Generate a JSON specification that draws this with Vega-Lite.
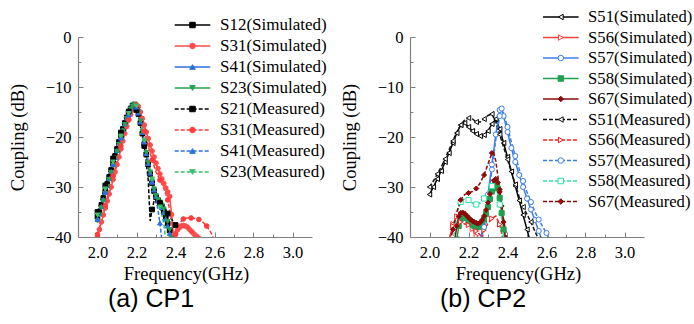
{
  "$schema": "https://vega.github.io/schema/vega-lite/v6.json",
  "padding": {"left": 8, "top": 8, "right": 0, "bottom": 0},
  "spacing": 13,
  "config": {
    "view": {"stroke": null},
    "font": "Liberation Serif",
    "axis": {"domainColor": "#808080", "tickColor": "#808080", "labelColor": "#000000", "titleColor": "#000000", "labelFont": "Liberation Serif", "titleFont": "Liberation Serif", "labelFontSize": 16.5, "titleFontSize": 18.5, "titleFontWeight": "normal", "grid": false, "domainWidth": 1.2, "tickWidth": 1}
  },
  "resolve": {"scale": {"color": "independent", "stroke": "independent", "fill": "independent", "shape": "independent", "strokeDash": "independent"}, "legend": {"color": "independent", "stroke": "independent", "fill": "independent", "shape": "independent", "strokeDash": "independent"}},
  "hconcat": [
    {
      "width": 234, "height": 200,
      "title": {"text": "(a) CP1", "orient": "bottom", "font": "Liberation Sans", "fontSize": 25, "fontWeight": "normal", "color": "#000000", "dx": -44, "offset": 4},
      "data": {"values": [
        {"series":"S12(Simulated)","f":2.00,"dB":-36.0},{"series":"S12(Simulated)","f":2.01,"dB":-35.0},{"series":"S12(Simulated)","f":2.02,"dB":-33.6},{"series":"S12(Simulated)","f":2.03,"dB":-32.2},{"series":"S12(Simulated)","f":2.04,"dB":-30.8},{"series":"S12(Simulated)","f":2.05,"dB":-29.4},{"series":"S12(Simulated)","f":2.06,"dB":-28.0},{"series":"S12(Simulated)","f":2.07,"dB":-26.6},{"series":"S12(Simulated)","f":2.08,"dB":-25.2},{"series":"S12(Simulated)","f":2.09,"dB":-23.8},{"series":"S12(Simulated)","f":2.10,"dB":-22.4},{"series":"S12(Simulated)","f":2.11,"dB":-21.0},{"series":"S12(Simulated)","f":2.12,"dB":-19.7},{"series":"S12(Simulated)","f":2.13,"dB":-18.4},{"series":"S12(Simulated)","f":2.14,"dB":-17.2},{"series":"S12(Simulated)","f":2.15,"dB":-16.1},{"series":"S12(Simulated)","f":2.16,"dB":-15.1},{"series":"S12(Simulated)","f":2.17,"dB":-14.3},{"series":"S12(Simulated)","f":2.18,"dB":-13.7},{"series":"S12(Simulated)","f":2.19,"dB":-13.5},{"series":"S12(Simulated)","f":2.20,"dB":-14.0},{"series":"S12(Simulated)","f":2.21,"dB":-15.4},{"series":"S12(Simulated)","f":2.22,"dB":-17.2},{"series":"S12(Simulated)","f":2.23,"dB":-19.3},{"series":"S12(Simulated)","f":2.24,"dB":-21.4},{"series":"S12(Simulated)","f":2.25,"dB":-23.5},{"series":"S12(Simulated)","f":2.26,"dB":-25.5},{"series":"S12(Simulated)","f":2.27,"dB":-27.4},{"series":"S12(Simulated)","f":2.28,"dB":-29.2},{"series":"S12(Simulated)","f":2.29,"dB":-30.8},{"series":"S12(Simulated)","f":2.30,"dB":-32.0},{"series":"S12(Simulated)","f":2.31,"dB":-32.7},{"series":"S12(Simulated)","f":2.32,"dB":-33.2},{"series":"S12(Simulated)","f":2.33,"dB":-33.9},{"series":"S12(Simulated)","f":2.34,"dB":-34.8},{"series":"S12(Simulated)","f":2.35,"dB":-35.9},{"series":"S12(Simulated)","f":2.36,"dB":-37.3},{"series":"S12(Simulated)","f":2.37,"dB":-38.7},{"series":"S12(Simulated)","f":2.38,"dB":-40.3},
        {"series":"S31(Simulated)","f":2.00,"dB":-40.0},{"series":"S31(Simulated)","f":2.01,"dB":-38.5},{"series":"S31(Simulated)","f":2.02,"dB":-37.0},{"series":"S31(Simulated)","f":2.03,"dB":-35.6},{"series":"S31(Simulated)","f":2.04,"dB":-34.2},{"series":"S31(Simulated)","f":2.05,"dB":-32.8},{"series":"S31(Simulated)","f":2.06,"dB":-31.4},{"series":"S31(Simulated)","f":2.07,"dB":-30.0},{"series":"S31(Simulated)","f":2.08,"dB":-28.5},{"series":"S31(Simulated)","f":2.09,"dB":-27.0},{"series":"S31(Simulated)","f":2.10,"dB":-25.5},{"series":"S31(Simulated)","f":2.11,"dB":-24.0},{"series":"S31(Simulated)","f":2.12,"dB":-22.4},{"series":"S31(Simulated)","f":2.13,"dB":-20.8},{"series":"S31(Simulated)","f":2.14,"dB":-19.3},{"series":"S31(Simulated)","f":2.15,"dB":-17.9},{"series":"S31(Simulated)","f":2.16,"dB":-16.6},{"series":"S31(Simulated)","f":2.17,"dB":-15.5},{"series":"S31(Simulated)","f":2.18,"dB":-14.6},{"series":"S31(Simulated)","f":2.19,"dB":-13.9},{"series":"S31(Simulated)","f":2.20,"dB":-13.6},{"series":"S31(Simulated)","f":2.21,"dB":-13.9},{"series":"S31(Simulated)","f":2.22,"dB":-15.0},{"series":"S31(Simulated)","f":2.23,"dB":-16.3},{"series":"S31(Simulated)","f":2.24,"dB":-17.6},{"series":"S31(Simulated)","f":2.25,"dB":-19.0},{"series":"S31(Simulated)","f":2.26,"dB":-20.3},{"series":"S31(Simulated)","f":2.27,"dB":-21.6},{"series":"S31(Simulated)","f":2.28,"dB":-22.8},{"series":"S31(Simulated)","f":2.29,"dB":-24.0},{"series":"S31(Simulated)","f":2.30,"dB":-25.2},{"series":"S31(Simulated)","f":2.31,"dB":-26.3},{"series":"S31(Simulated)","f":2.32,"dB":-27.4},{"series":"S31(Simulated)","f":2.33,"dB":-28.4},{"series":"S31(Simulated)","f":2.34,"dB":-29.3},{"series":"S31(Simulated)","f":2.35,"dB":-30.2},{"series":"S31(Simulated)","f":2.36,"dB":-31.0},{"series":"S31(Simulated)","f":2.37,"dB":-31.9},{"series":"S31(Simulated)","f":2.38,"dB":-35.5},{"series":"S31(Simulated)","f":2.39,"dB":-40.5},{"series":"S31(Simulated)","f":2.40,"dB":-39.3},{"series":"S31(Simulated)","f":2.41,"dB":-38.6},{"series":"S31(Simulated)","f":2.42,"dB":-38.1},{"series":"S31(Simulated)","f":2.43,"dB":-37.8},{"series":"S31(Simulated)","f":2.44,"dB":-37.7},{"series":"S31(Simulated)","f":2.45,"dB":-37.8},{"series":"S31(Simulated)","f":2.46,"dB":-38.0},{"series":"S31(Simulated)","f":2.47,"dB":-38.4},{"series":"S31(Simulated)","f":2.48,"dB":-38.8},{"series":"S31(Simulated)","f":2.49,"dB":-39.2},{"series":"S31(Simulated)","f":2.50,"dB":-39.6},{"series":"S31(Simulated)","f":2.51,"dB":-39.9},{"series":"S31(Simulated)","f":2.52,"dB":-40.3},
        {"series":"S41(Simulated)","f":2.00,"dB":-36.4},{"series":"S41(Simulated)","f":2.01,"dB":-35.3},{"series":"S41(Simulated)","f":2.02,"dB":-33.9},{"series":"S41(Simulated)","f":2.03,"dB":-32.5},{"series":"S41(Simulated)","f":2.04,"dB":-31.1},{"series":"S41(Simulated)","f":2.05,"dB":-29.7},{"series":"S41(Simulated)","f":2.06,"dB":-28.3},{"series":"S41(Simulated)","f":2.07,"dB":-26.9},{"series":"S41(Simulated)","f":2.08,"dB":-25.5},{"series":"S41(Simulated)","f":2.09,"dB":-24.1},{"series":"S41(Simulated)","f":2.10,"dB":-22.7},{"series":"S41(Simulated)","f":2.11,"dB":-21.3},{"series":"S41(Simulated)","f":2.12,"dB":-19.9},{"series":"S41(Simulated)","f":2.13,"dB":-18.6},{"series":"S41(Simulated)","f":2.14,"dB":-17.4},{"series":"S41(Simulated)","f":2.15,"dB":-16.2},{"series":"S41(Simulated)","f":2.16,"dB":-15.2},{"series":"S41(Simulated)","f":2.17,"dB":-14.4},{"series":"S41(Simulated)","f":2.18,"dB":-13.8},{"series":"S41(Simulated)","f":2.19,"dB":-13.5},{"series":"S41(Simulated)","f":2.20,"dB":-13.9},{"series":"S41(Simulated)","f":2.21,"dB":-15.2},{"series":"S41(Simulated)","f":2.22,"dB":-17.0},{"series":"S41(Simulated)","f":2.23,"dB":-19.1},{"series":"S41(Simulated)","f":2.24,"dB":-21.2},{"series":"S41(Simulated)","f":2.25,"dB":-23.3},{"series":"S41(Simulated)","f":2.26,"dB":-25.3},{"series":"S41(Simulated)","f":2.27,"dB":-27.2},{"series":"S41(Simulated)","f":2.28,"dB":-29.0},{"series":"S41(Simulated)","f":2.29,"dB":-30.6},{"series":"S41(Simulated)","f":2.30,"dB":-31.9},{"series":"S41(Simulated)","f":2.31,"dB":-32.7},{"series":"S41(Simulated)","f":2.32,"dB":-33.3},{"series":"S41(Simulated)","f":2.33,"dB":-34.1},{"series":"S41(Simulated)","f":2.34,"dB":-35.1},{"series":"S41(Simulated)","f":2.35,"dB":-36.4},{"series":"S41(Simulated)","f":2.36,"dB":-37.8},{"series":"S41(Simulated)","f":2.37,"dB":-39.3},{"series":"S41(Simulated)","f":2.38,"dB":-41.0},
        {"series":"S23(Simulated)","f":2.00,"dB":-36.8},{"series":"S23(Simulated)","f":2.01,"dB":-35.6},{"series":"S23(Simulated)","f":2.02,"dB":-34.2},{"series":"S23(Simulated)","f":2.03,"dB":-32.8},{"series":"S23(Simulated)","f":2.04,"dB":-31.3},{"series":"S23(Simulated)","f":2.05,"dB":-29.9},{"series":"S23(Simulated)","f":2.06,"dB":-28.5},{"series":"S23(Simulated)","f":2.07,"dB":-27.1},{"series":"S23(Simulated)","f":2.08,"dB":-25.7},{"series":"S23(Simulated)","f":2.09,"dB":-24.3},{"series":"S23(Simulated)","f":2.10,"dB":-22.9},{"series":"S23(Simulated)","f":2.11,"dB":-21.5},{"series":"S23(Simulated)","f":2.12,"dB":-20.1},{"series":"S23(Simulated)","f":2.13,"dB":-18.8},{"series":"S23(Simulated)","f":2.14,"dB":-17.5},{"series":"S23(Simulated)","f":2.15,"dB":-16.3},{"series":"S23(Simulated)","f":2.16,"dB":-15.3},{"series":"S23(Simulated)","f":2.17,"dB":-14.4},{"series":"S23(Simulated)","f":2.18,"dB":-13.8},{"series":"S23(Simulated)","f":2.19,"dB":-13.5},{"series":"S23(Simulated)","f":2.20,"dB":-13.8},{"series":"S23(Simulated)","f":2.21,"dB":-15.0},{"series":"S23(Simulated)","f":2.22,"dB":-16.8},{"series":"S23(Simulated)","f":2.23,"dB":-18.9},{"series":"S23(Simulated)","f":2.24,"dB":-21.0},{"series":"S23(Simulated)","f":2.25,"dB":-23.1},{"series":"S23(Simulated)","f":2.26,"dB":-25.1},{"series":"S23(Simulated)","f":2.27,"dB":-27.0},{"series":"S23(Simulated)","f":2.28,"dB":-28.8},{"series":"S23(Simulated)","f":2.29,"dB":-30.4},{"series":"S23(Simulated)","f":2.30,"dB":-31.7},{"series":"S23(Simulated)","f":2.31,"dB":-32.5},{"series":"S23(Simulated)","f":2.32,"dB":-33.0},{"series":"S23(Simulated)","f":2.33,"dB":-33.6},{"series":"S23(Simulated)","f":2.34,"dB":-34.4},{"series":"S23(Simulated)","f":2.35,"dB":-35.5},{"series":"S23(Simulated)","f":2.36,"dB":-36.9},{"series":"S23(Simulated)","f":2.37,"dB":-38.5},{"series":"S23(Simulated)","f":2.38,"dB":-40.2},
        {"series":"S21(Measured)","f":2.00,"dB":-35.0},{"series":"S21(Measured)","f":2.02,"dB":-32.4},{"series":"S21(Measured)","f":2.04,"dB":-29.7},{"series":"S21(Measured)","f":2.06,"dB":-27.0},{"series":"S21(Measured)","f":2.08,"dB":-24.3},{"series":"S21(Measured)","f":2.10,"dB":-21.6},{"series":"S21(Measured)","f":2.12,"dB":-19.1},{"series":"S21(Measured)","f":2.14,"dB":-16.8},{"series":"S21(Measured)","f":2.16,"dB":-14.9},{"series":"S21(Measured)","f":2.18,"dB":-13.8},{"series":"S21(Measured)","f":2.20,"dB":-14.6},{"series":"S21(Measured)","f":2.22,"dB":-17.6},{"series":"S21(Measured)","f":2.24,"dB":-21.8},{"series":"S21(Measured)","f":2.26,"dB":-28.5},{"series":"S21(Measured)","f":2.27,"dB":-36.8},{"series":"S21(Measured)","f":2.28,"dB":-34.5},{"series":"S21(Measured)","f":2.29,"dB":-32.8},{"series":"S21(Measured)","f":2.30,"dB":-32.5},{"series":"S21(Measured)","f":2.32,"dB":-33.2},{"series":"S21(Measured)","f":2.34,"dB":-34.2},{"series":"S21(Measured)","f":2.36,"dB":-35.3},{"series":"S21(Measured)","f":2.38,"dB":-36.4},{"series":"S21(Measured)","f":2.40,"dB":-37.6},
        {"series":"S31(Measured)","f":2.00,"dB":-39.5},{"series":"S31(Measured)","f":2.02,"dB":-36.6},{"series":"S31(Measured)","f":2.04,"dB":-33.7},{"series":"S31(Measured)","f":2.06,"dB":-30.8},{"series":"S31(Measured)","f":2.08,"dB":-27.8},{"series":"S31(Measured)","f":2.10,"dB":-24.8},{"series":"S31(Measured)","f":2.12,"dB":-21.8},{"series":"S31(Measured)","f":2.14,"dB":-19.0},{"series":"S31(Measured)","f":2.16,"dB":-16.5},{"series":"S31(Measured)","f":2.18,"dB":-14.5},{"series":"S31(Measured)","f":2.20,"dB":-13.6},{"series":"S31(Measured)","f":2.22,"dB":-15.8},{"series":"S31(Measured)","f":2.24,"dB":-18.8},{"series":"S31(Measured)","f":2.26,"dB":-21.8},{"series":"S31(Measured)","f":2.28,"dB":-24.6},{"series":"S31(Measured)","f":2.30,"dB":-27.0},{"series":"S31(Measured)","f":2.32,"dB":-28.6},{"series":"S31(Measured)","f":2.34,"dB":-30.2},{"series":"S31(Measured)","f":2.36,"dB":-32.6},{"series":"S31(Measured)","f":2.38,"dB":-36.5},{"series":"S31(Measured)","f":2.39,"dB":-41.0},{"series":"S31(Measured)","f":2.40,"dB":-39.5},{"series":"S31(Measured)","f":2.42,"dB":-37.3},{"series":"S31(Measured)","f":2.44,"dB":-36.4},{"series":"S31(Measured)","f":2.46,"dB":-36.2},{"series":"S31(Measured)","f":2.48,"dB":-36.2},{"series":"S31(Measured)","f":2.50,"dB":-36.3},{"series":"S31(Measured)","f":2.52,"dB":-36.5},{"series":"S31(Measured)","f":2.54,"dB":-37.0},{"series":"S31(Measured)","f":2.56,"dB":-37.8},{"series":"S31(Measured)","f":2.58,"dB":-39.0},{"series":"S31(Measured)","f":2.60,"dB":-40.6},
        {"series":"S41(Measured)","f":2.00,"dB":-36.5},{"series":"S41(Measured)","f":2.02,"dB":-33.8},{"series":"S41(Measured)","f":2.04,"dB":-31.0},{"series":"S41(Measured)","f":2.06,"dB":-28.2},{"series":"S41(Measured)","f":2.08,"dB":-25.5},{"series":"S41(Measured)","f":2.10,"dB":-22.8},{"series":"S41(Measured)","f":2.12,"dB":-20.2},{"series":"S41(Measured)","f":2.14,"dB":-17.8},{"series":"S41(Measured)","f":2.16,"dB":-15.6},{"series":"S41(Measured)","f":2.18,"dB":-14.0},{"series":"S41(Measured)","f":2.20,"dB":-14.0},{"series":"S41(Measured)","f":2.22,"dB":-17.0},{"series":"S41(Measured)","f":2.24,"dB":-21.0},{"series":"S41(Measured)","f":2.26,"dB":-25.0},{"series":"S41(Measured)","f":2.28,"dB":-29.0},{"series":"S41(Measured)","f":2.30,"dB":-32.5},{"series":"S41(Measured)","f":2.31,"dB":-34.5},{"series":"S41(Measured)","f":2.32,"dB":-37.2},{"series":"S41(Measured)","f":2.33,"dB":-40.6},
        {"series":"S23(Measured)","f":2.00,"dB":-35.6},{"series":"S23(Measured)","f":2.02,"dB":-33.1},{"series":"S23(Measured)","f":2.04,"dB":-30.4},{"series":"S23(Measured)","f":2.06,"dB":-27.7},{"series":"S23(Measured)","f":2.08,"dB":-25.0},{"series":"S23(Measured)","f":2.10,"dB":-22.3},{"series":"S23(Measured)","f":2.12,"dB":-19.8},{"series":"S23(Measured)","f":2.14,"dB":-17.4},{"series":"S23(Measured)","f":2.16,"dB":-15.3},{"series":"S23(Measured)","f":2.18,"dB":-13.9},{"series":"S23(Measured)","f":2.20,"dB":-13.8},{"series":"S23(Measured)","f":2.22,"dB":-16.8},{"series":"S23(Measured)","f":2.24,"dB":-20.7},{"series":"S23(Measured)","f":2.26,"dB":-24.7},{"series":"S23(Measured)","f":2.28,"dB":-28.4},{"series":"S23(Measured)","f":2.30,"dB":-31.6},{"series":"S23(Measured)","f":2.32,"dB":-34.0},{"series":"S23(Measured)","f":2.34,"dB":-37.3},{"series":"S23(Measured)","f":2.35,"dB":-40.6}
      ]},
      "encoding": {
        "x": {"field": "f", "type": "quantitative", "title": "Frequency(GHz)", "scale": {"domain": [1.9, 3.1], "nice": false, "zero": false},
              "axis": {"values": [2.0,2.1,2.2,2.3,2.4,2.5,2.6,2.7,2.8,2.9,3.0], "labelExpr": "round(datum.value*10) % 2 == 0 ? format(datum.value, '.1f') : ''", "tickSize": {"condition": {"test": "round(datum.value*10) % 2 == 0", "value": -5}, "value": -3}, "labelPadding": 12, "titlePadding": 2, "titleX": 108, "labelFlush": false, "labelOverlap": false}},
        "y": {"field": "dB", "type": "quantitative", "title": "Coupling (dB)", "scale": {"domain": [-40, 0], "nice": false, "zero": false},
              "axis": {"values": [-40,-35,-30,-25,-20,-15,-10,-5,0], "labelExpr": "datum.value % 10 == 0 ? datum.label : ''", "tickSize": {"condition": {"test": "datum.value % 10 == 0", "value": -5}, "value": -3}, "labelPadding": 12, "titlePadding": 18, "labelOverlap": false}}
      },
      "layer": [
        {"mark": {"type": "line", "clip": true, "strokeWidth": 1.5},
         "encoding": {
           "color": {"field": "series", "type": "nominal", "sort": null,
             "scale": {"range": ["#000000","#FF4B4B","#2C6FDF","#24A155","#000000","#FF3B3B","#2C6FDF","#3DBF6E"]},
             "legend": {"orient": "none", "legendX": 106, "legendY": -20.5, "title": null, "padding": 0, "symbolType": "M-6.5,0H6.5", "symbolSize": 30, "symbolStrokeWidth": 1.5, "labelFont": "Liberation Serif", "labelFontSize": 17, "labelColor": "#000000", "labelOffset": 19, "rowPadding": 3, "labelLimit": 300}},
           "strokeDash": {"field": "series", "type": "nominal", "sort": null, "scale": {"range": [[1,0],[1,0],[1,0],[1,0],[4,2],[4,2],[4,2],[4,2]]}}
         }},
        {"mark": {"type": "point", "clip": true, "size": 22, "strokeWidth": 1, "opacity": 1},
         "transform": [{"filter": "indexof(datum.series, 'Measured') < 0 || round(datum.f * 100) % 4 == 0"}],
         "encoding": {
           "stroke": {"field": "series", "type": "nominal", "scale": {"domain": ["S12(Simulated)","S31(Simulated)","S41(Simulated)","S23(Simulated)","S21(Measured)","S31(Measured)","S41(Measured)","S23(Measured)"], "range": ["#000000","#FF4B4B","#2C6FDF","#24A155","#000000","#FF3B3B","#2C6FDF","#3DBF6E"]},
             "legend": {"orient": "none", "legendX": 106, "legendY": -20.5, "title": null, "padding": 0, "symbolSize": 30, "symbolStrokeWidth": 1, "labelFont": "Liberation Serif", "labelFontSize": 17, "labelOpacity": 0, "labelOffset": 19, "rowPadding": 3, "labelLimit": 300}},
           "fill": {"field": "series", "type": "nominal", "scale": {"domain": ["S12(Simulated)","S31(Simulated)","S41(Simulated)","S23(Simulated)","S21(Measured)","S31(Measured)","S41(Measured)","S23(Measured)"], "range": ["#000000","#FF4B4B","#2C6FDF","#24A155","#000000","#FF3B3B","#2C6FDF","#3DBF6E"]}},
           "shape": {"field": "series", "type": "nominal", "scale": {"domain": ["S12(Simulated)","S31(Simulated)","S41(Simulated)","S23(Simulated)","S21(Measured)","S31(Measured)","S41(Measured)","S23(Measured)"], "range": ["square","circle","triangle-up","triangle-down","square","circle","triangle-up","triangle-down"]}}
         }}
      ]
    },
    {
      "width": 234, "height": 200,
      "title": {"text": "(b) CP2", "orient": "bottom", "font": "Liberation Sans", "fontSize": 25, "fontWeight": "normal", "color": "#000000", "dx": -44, "offset": 4},
      "data": {"values": [
        {"series":"S51(Simulated)","f":2.00,"dB":-31.5},{"series":"S51(Simulated)","f":2.02,"dB":-30.0},{"series":"S51(Simulated)","f":2.04,"dB":-28.4},{"series":"S51(Simulated)","f":2.06,"dB":-26.8},{"series":"S51(Simulated)","f":2.08,"dB":-25.0},{"series":"S51(Simulated)","f":2.10,"dB":-23.2},{"series":"S51(Simulated)","f":2.12,"dB":-21.2},{"series":"S51(Simulated)","f":2.14,"dB":-19.2},{"series":"S51(Simulated)","f":2.16,"dB":-17.6},{"series":"S51(Simulated)","f":2.18,"dB":-17.2},{"series":"S51(Simulated)","f":2.20,"dB":-18.0},{"series":"S51(Simulated)","f":2.22,"dB":-18.8},{"series":"S51(Simulated)","f":2.24,"dB":-19.4},{"series":"S51(Simulated)","f":2.26,"dB":-19.8},{"series":"S51(Simulated)","f":2.28,"dB":-19.6},{"series":"S51(Simulated)","f":2.30,"dB":-18.8},{"series":"S51(Simulated)","f":2.32,"dB":-17.4},{"series":"S51(Simulated)","f":2.34,"dB":-16.4},{"series":"S51(Simulated)","f":2.36,"dB":-18.4},{"series":"S51(Simulated)","f":2.38,"dB":-21.2},{"series":"S51(Simulated)","f":2.40,"dB":-24.0},{"series":"S51(Simulated)","f":2.42,"dB":-26.9},{"series":"S51(Simulated)","f":2.44,"dB":-29.8},{"series":"S51(Simulated)","f":2.46,"dB":-32.7},{"series":"S51(Simulated)","f":2.48,"dB":-35.6},{"series":"S51(Simulated)","f":2.50,"dB":-38.5},{"series":"S51(Simulated)","f":2.52,"dB":-41.4},
        {"series":"S56(Simulated)","f":2.10,"dB":-41.0},{"series":"S56(Simulated)","f":2.12,"dB":-37.4},{"series":"S56(Simulated)","f":2.14,"dB":-35.9},{"series":"S56(Simulated)","f":2.16,"dB":-35.6},{"series":"S56(Simulated)","f":2.18,"dB":-36.2},{"series":"S56(Simulated)","f":2.20,"dB":-37.2},{"series":"S56(Simulated)","f":2.22,"dB":-38.4},{"series":"S56(Simulated)","f":2.24,"dB":-39.8},{"series":"S56(Simulated)","f":2.25,"dB":-41.0},
        {"series":"S57(Simulated)","f":2.26,"dB":-41.0},{"series":"S57(Simulated)","f":2.28,"dB":-37.0},{"series":"S57(Simulated)","f":2.30,"dB":-31.5},{"series":"S57(Simulated)","f":2.32,"dB":-25.5},{"series":"S57(Simulated)","f":2.34,"dB":-19.5},{"series":"S57(Simulated)","f":2.36,"dB":-14.6},{"series":"S57(Simulated)","f":2.37,"dB":-14.3},{"series":"S57(Simulated)","f":2.38,"dB":-15.8},{"series":"S57(Simulated)","f":2.40,"dB":-19.0},{"series":"S57(Simulated)","f":2.42,"dB":-22.2},{"series":"S57(Simulated)","f":2.44,"dB":-25.0},{"series":"S57(Simulated)","f":2.46,"dB":-27.6},{"series":"S57(Simulated)","f":2.48,"dB":-30.0},{"series":"S57(Simulated)","f":2.50,"dB":-32.3},{"series":"S57(Simulated)","f":2.52,"dB":-34.5},{"series":"S57(Simulated)","f":2.54,"dB":-36.6},{"series":"S57(Simulated)","f":2.56,"dB":-38.8},{"series":"S57(Simulated)","f":2.58,"dB":-41.0},
        {"series":"S58(Simulated)","f":2.14,"dB":-40.5},{"series":"S58(Simulated)","f":2.15,"dB":-37.8},{"series":"S58(Simulated)","f":2.16,"dB":-36.4},{"series":"S58(Simulated)","f":2.17,"dB":-35.9},{"series":"S58(Simulated)","f":2.18,"dB":-35.9},{"series":"S58(Simulated)","f":2.19,"dB":-36.2},{"series":"S58(Simulated)","f":2.20,"dB":-36.7},{"series":"S58(Simulated)","f":2.21,"dB":-37.1},{"series":"S58(Simulated)","f":2.22,"dB":-37.5},{"series":"S58(Simulated)","f":2.23,"dB":-37.8},{"series":"S58(Simulated)","f":2.24,"dB":-38.0},{"series":"S58(Simulated)","f":2.25,"dB":-38.0},{"series":"S58(Simulated)","f":2.26,"dB":-37.8},{"series":"S58(Simulated)","f":2.27,"dB":-37.3},{"series":"S58(Simulated)","f":2.28,"dB":-36.5},{"series":"S58(Simulated)","f":2.29,"dB":-35.4},{"series":"S58(Simulated)","f":2.30,"dB":-34.0},{"series":"S58(Simulated)","f":2.31,"dB":-32.4},{"series":"S58(Simulated)","f":2.32,"dB":-30.9},{"series":"S58(Simulated)","f":2.33,"dB":-29.9},{"series":"S58(Simulated)","f":2.34,"dB":-29.6},{"series":"S58(Simulated)","f":2.35,"dB":-30.3},{"series":"S58(Simulated)","f":2.36,"dB":-32.2},{"series":"S58(Simulated)","f":2.37,"dB":-35.2},{"series":"S58(Simulated)","f":2.38,"dB":-38.5},{"series":"S58(Simulated)","f":2.39,"dB":-41.0},
        {"series":"S67(Simulated)","f":2.13,"dB":-40.5},{"series":"S67(Simulated)","f":2.14,"dB":-37.8},{"series":"S67(Simulated)","f":2.15,"dB":-35.9},{"series":"S67(Simulated)","f":2.16,"dB":-35.2},{"series":"S67(Simulated)","f":2.17,"dB":-35.1},{"series":"S67(Simulated)","f":2.18,"dB":-35.3},{"series":"S67(Simulated)","f":2.19,"dB":-35.7},{"series":"S67(Simulated)","f":2.20,"dB":-36.1},{"series":"S67(Simulated)","f":2.21,"dB":-36.5},{"series":"S67(Simulated)","f":2.22,"dB":-36.8},{"series":"S67(Simulated)","f":2.23,"dB":-37.0},{"series":"S67(Simulated)","f":2.24,"dB":-37.2},{"series":"S67(Simulated)","f":2.25,"dB":-37.3},{"series":"S67(Simulated)","f":2.26,"dB":-37.1},{"series":"S67(Simulated)","f":2.27,"dB":-36.6},{"series":"S67(Simulated)","f":2.28,"dB":-35.8},{"series":"S67(Simulated)","f":2.29,"dB":-34.6},{"series":"S67(Simulated)","f":2.30,"dB":-33.1},{"series":"S67(Simulated)","f":2.31,"dB":-31.4},{"series":"S67(Simulated)","f":2.32,"dB":-29.8},{"series":"S67(Simulated)","f":2.33,"dB":-28.7},{"series":"S67(Simulated)","f":2.34,"dB":-28.4},{"series":"S67(Simulated)","f":2.35,"dB":-29.1},{"series":"S67(Simulated)","f":2.36,"dB":-31.0},{"series":"S67(Simulated)","f":2.37,"dB":-33.8},{"series":"S67(Simulated)","f":2.38,"dB":-37.0},{"series":"S67(Simulated)","f":2.39,"dB":-40.5},
        {"series":"S51(Measured)","f":2.00,"dB":-30.0},{"series":"S51(Measured)","f":2.02,"dB":-28.8},{"series":"S51(Measured)","f":2.04,"dB":-27.4},{"series":"S51(Measured)","f":2.06,"dB":-26.0},{"series":"S51(Measured)","f":2.08,"dB":-24.4},{"series":"S51(Measured)","f":2.10,"dB":-22.6},{"series":"S51(Measured)","f":2.12,"dB":-20.8},{"series":"S51(Measured)","f":2.14,"dB":-19.0},{"series":"S51(Measured)","f":2.16,"dB":-17.6},{"series":"S51(Measured)","f":2.18,"dB":-16.6},{"series":"S51(Measured)","f":2.20,"dB":-16.2},{"series":"S51(Measured)","f":2.22,"dB":-16.4},{"series":"S51(Measured)","f":2.24,"dB":-17.0},{"series":"S51(Measured)","f":2.26,"dB":-17.0},{"series":"S51(Measured)","f":2.28,"dB":-16.4},{"series":"S51(Measured)","f":2.30,"dB":-15.7},{"series":"S51(Measured)","f":2.32,"dB":-15.4},{"series":"S51(Measured)","f":2.34,"dB":-17.0},{"series":"S51(Measured)","f":2.36,"dB":-19.5},{"series":"S51(Measured)","f":2.38,"dB":-22.0},{"series":"S51(Measured)","f":2.40,"dB":-24.5},{"series":"S51(Measured)","f":2.42,"dB":-27.0},{"series":"S51(Measured)","f":2.44,"dB":-29.5},{"series":"S51(Measured)","f":2.46,"dB":-32.0},{"series":"S51(Measured)","f":2.48,"dB":-34.0},{"series":"S51(Measured)","f":2.50,"dB":-35.5},{"series":"S51(Measured)","f":2.52,"dB":-37.0},{"series":"S51(Measured)","f":2.54,"dB":-38.8},{"series":"S51(Measured)","f":2.56,"dB":-40.5},
        {"series":"S56(Measured)","f":2.10,"dB":-41.0},{"series":"S56(Measured)","f":2.12,"dB":-37.8},{"series":"S56(Measured)","f":2.14,"dB":-36.8},{"series":"S56(Measured)","f":2.16,"dB":-37.0},{"series":"S56(Measured)","f":2.18,"dB":-37.4},{"series":"S56(Measured)","f":2.20,"dB":-37.6},{"series":"S56(Measured)","f":2.22,"dB":-38.0},{"series":"S56(Measured)","f":2.24,"dB":-38.8},{"series":"S56(Measured)","f":2.26,"dB":-39.6},{"series":"S56(Measured)","f":2.27,"dB":-40.2},{"series":"S56(Measured)","f":2.28,"dB":-38.6},{"series":"S56(Measured)","f":2.30,"dB":-37.3},{"series":"S56(Measured)","f":2.32,"dB":-36.3},{"series":"S56(Measured)","f":2.34,"dB":-35.8},{"series":"S56(Measured)","f":2.36,"dB":-37.5},{"series":"S56(Measured)","f":2.38,"dB":-41.0},
        {"series":"S57(Measured)","f":2.26,"dB":-41.0},{"series":"S57(Measured)","f":2.28,"dB":-38.0},{"series":"S57(Measured)","f":2.30,"dB":-32.5},{"series":"S57(Measured)","f":2.32,"dB":-26.5},{"series":"S57(Measured)","f":2.34,"dB":-20.5},{"series":"S57(Measured)","f":2.36,"dB":-15.8},{"series":"S57(Measured)","f":2.37,"dB":-14.8},{"series":"S57(Measured)","f":2.38,"dB":-15.2},{"series":"S57(Measured)","f":2.40,"dB":-18.0},{"series":"S57(Measured)","f":2.42,"dB":-21.0},{"series":"S57(Measured)","f":2.44,"dB":-23.8},{"series":"S57(Measured)","f":2.46,"dB":-26.4},{"series":"S57(Measured)","f":2.48,"dB":-28.8},{"series":"S57(Measured)","f":2.50,"dB":-31.0},{"series":"S57(Measured)","f":2.52,"dB":-33.0},{"series":"S57(Measured)","f":2.54,"dB":-34.9},{"series":"S57(Measured)","f":2.56,"dB":-36.5},{"series":"S57(Measured)","f":2.58,"dB":-37.9},{"series":"S57(Measured)","f":2.60,"dB":-39.2},{"series":"S57(Measured)","f":2.62,"dB":-40.6},
        {"series":"S58(Measured)","f":2.12,"dB":-41.0},{"series":"S58(Measured)","f":2.14,"dB":-35.5},{"series":"S58(Measured)","f":2.16,"dB":-33.0},{"series":"S58(Measured)","f":2.18,"dB":-32.3},{"series":"S58(Measured)","f":2.20,"dB":-32.6},{"series":"S58(Measured)","f":2.22,"dB":-33.2},{"series":"S58(Measured)","f":2.24,"dB":-33.5},{"series":"S58(Measured)","f":2.26,"dB":-33.2},{"series":"S58(Measured)","f":2.28,"dB":-32.3},{"series":"S58(Measured)","f":2.30,"dB":-31.0},{"series":"S58(Measured)","f":2.32,"dB":-29.8},{"series":"S58(Measured)","f":2.34,"dB":-29.5},{"series":"S58(Measured)","f":2.36,"dB":-33.5},{"series":"S58(Measured)","f":2.37,"dB":-36.5},{"series":"S58(Measured)","f":2.38,"dB":-40.5},
        {"series":"S67(Measured)","f":2.10,"dB":-42.0},{"series":"S67(Measured)","f":2.12,"dB":-38.5},{"series":"S67(Measured)","f":2.14,"dB":-35.0},{"series":"S67(Measured)","f":2.16,"dB":-32.6},{"series":"S67(Measured)","f":2.18,"dB":-31.5},{"series":"S67(Measured)","f":2.20,"dB":-31.2},{"series":"S67(Measured)","f":2.22,"dB":-30.9},{"series":"S67(Measured)","f":2.24,"dB":-30.3},{"series":"S67(Measured)","f":2.26,"dB":-29.2},{"series":"S67(Measured)","f":2.28,"dB":-27.6},{"series":"S67(Measured)","f":2.30,"dB":-25.4},{"series":"S67(Measured)","f":2.32,"dB":-23.2},{"series":"S67(Measured)","f":2.33,"dB":-23.3},{"series":"S67(Measured)","f":2.34,"dB":-24.8},{"series":"S67(Measured)","f":2.36,"dB":-30.5},{"series":"S67(Measured)","f":2.38,"dB":-36.5},{"series":"S67(Measured)","f":2.40,"dB":-41.0}
      ]},
      "encoding": {
        "x": {"field": "f", "type": "quantitative", "title": "Frequency(GHz)", "scale": {"domain": [1.9, 3.1], "nice": false, "zero": false},
              "axis": {"values": [2.0,2.1,2.2,2.3,2.4,2.5,2.6,2.7,2.8,2.9,3.0], "labelExpr": "round(datum.value*10) % 2 == 0 ? format(datum.value, '.1f') : ''", "tickSize": {"condition": {"test": "round(datum.value*10) % 2 == 0", "value": -5}, "value": -3}, "labelPadding": 12, "titlePadding": 2, "titleX": 108, "labelFlush": false, "labelOverlap": false}},
        "y": {"field": "dB", "type": "quantitative", "title": "Coupling (dB)", "scale": {"domain": [-40, 0], "nice": false, "zero": false},
              "axis": {"values": [-40,-35,-30,-25,-20,-15,-10,-5,0], "labelExpr": "datum.value % 10 == 0 ? datum.label : ''", "tickSize": {"condition": {"test": "datum.value % 10 == 0", "value": -5}, "value": -3}, "labelPadding": 12, "titlePadding": 18, "labelOverlap": false}}
      },
      "layer": [
        {"mark": {"type": "line", "clip": true, "strokeWidth": 1.5},
         "encoding": {
           "color": {"field": "series", "type": "nominal", "sort": null,
             "scale": {"range": ["#000000","#FF4040","#3A7EE6","#22A052","#8C0A0A","#111111","#FF1A1A","#3A7EE6","#2BE3A5","#8C0A0A"]},
             "legend": {"orient": "none", "legendX": 142.5, "legendY": -28.3, "title": null, "padding": 0, "symbolType": "M-6.5,0H6.5", "symbolSize": 30, "symbolStrokeWidth": 1.5, "labelFont": "Liberation Serif", "labelFontSize": 16.6, "labelColor": "#000000", "labelOffset": 19, "rowPadding": 3.5, "labelLimit": 300}},
           "strokeDash": {"field": "series", "type": "nominal", "sort": null, "scale": {"range": [[1,0],[1,0],[1,0],[1,0],[1,0],[4,2],[4,2],[4,2],[4,2],[4,2]]}}
         }},
        {"mark": {"type": "point", "clip": true, "size": 26, "strokeWidth": 1, "opacity": 1},
         "transform": [{"filter": "indexof(datum.series, 'Measured') < 0 || round(datum.f * 100) % 4 == 0"}],
         "encoding": {
           "stroke": {"field": "series", "type": "nominal", "scale": {"domain": ["S51(Simulated)","S56(Simulated)","S57(Simulated)","S58(Simulated)","S67(Simulated)","S51(Measured)","S56(Measured)","S57(Measured)","S58(Measured)","S67(Measured)"], "range": ["#000000","#FF4040","#3A7EE6","#22A052","#8C0A0A","#111111","#FF1A1A","#3A7EE6","#2BE3A5","#8C0A0A"]},
             "legend": {"orient": "none", "legendX": 142.5, "legendY": -28.3, "title": null, "padding": 0, "symbolSize": 30, "symbolStrokeWidth": 1, "labelFont": "Liberation Serif", "labelFontSize": 16.6, "labelOpacity": 0, "labelOffset": 19, "rowPadding": 3.5, "labelLimit": 300}},
           "fill": {"field": "series", "type": "nominal", "scale": {"domain": ["S51(Simulated)","S56(Simulated)","S57(Simulated)","S58(Simulated)","S67(Simulated)","S51(Measured)","S56(Measured)","S57(Measured)","S58(Measured)","S67(Measured)"], "range": ["#FFFFFF","#FFFFFF","#FFFFFF","#22A052","#8C0A0A","#FFFFFF","#FFFFFF","#FFFFFF","#FFFFFF","#8C0A0A"]}},
           "shape": {"field": "series", "type": "nominal", "scale": {"domain": ["S51(Simulated)","S56(Simulated)","S57(Simulated)","S58(Simulated)","S67(Simulated)","S51(Measured)","S56(Measured)","S57(Measured)","S58(Measured)","S67(Measured)"], "range": ["triangle-left","triangle-right","circle","square","diamond","triangle-left","triangle-right","circle","square","diamond"]}}
         }}
      ]
    }
  ]
}
